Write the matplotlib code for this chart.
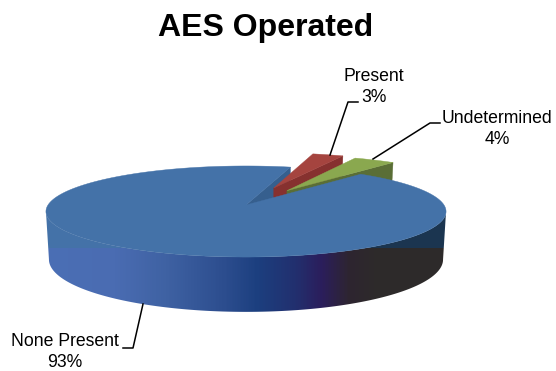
import numpy as np
import matplotlib
matplotlib.use('Agg')
import matplotlib.pyplot as plt
from matplotlib.colors import LinearSegmentedColormap
from matplotlib.patches import Polygon
from matplotlib.path import Path

# Data
labels = ['None Present', 'Present', 'Undetermined']
percents = [93, 3, 4]
explode = [0.0, 0.43, 0.40]
title = 'AES Operated'

# Pie geometry, all in image pixels
firstAngle = 40.0
cx, cy = 246., 205.
rx, ry = 198., 44.6
persp = 1/7.
depth = 47.
shrink = 0.985

plt.rcParams['font.family'] = ['Liberation Sans', 'DejaVu Sans']

fig = plt.figure(figsize=(5.56, 3.71), dpi=100)
ax = fig.add_axes([0, 0, 1, 1])


# Circle coords (angle clockwise from 12 o'clock) to the screen
def project(deg, rad=1., off=(0., 0.), low=False):
    t = np.radians(deg)
    u = rad*np.sin(t) + off[0]
    v = -rad*np.cos(t) + off[1]
    w = 1 - persp*v
    s = shrink if low else 1.
    x = cx + s*rx*u/w
    y = cy + ry*v/w + (depth/w if low else 0.)
    return np.column_stack([x, y])


def sidePoly(deg, off, color, z):
    top = np.vstack([project(0, 0., off), project(deg, 1., off)])
    bot = np.vstack([project(deg, 1., off, True), project(0, 0., off, True)])
    ax.add_patch(Polygon(np.vstack([top, bot]), closed=True, fc=color, ec=color, lw=.3, zorder=z))


def topPoly(a0, a1, off, color, z):
    arc = project(np.linspace(a0, a1, 300), 1., off)
    ax.add_patch(Polygon(np.vstack([project(0, 0., off), arc]), closed=True,
                         fc=color, ec=color, lw=.3, zorder=z))


# Slice angles from the values
sweeps = [p*3.6 for p in percents]
blue0 = firstAngle
blue1 = blue0 + sweeps[0]
red0 = blue1
red1 = red0 + sweeps[1]
green0 = red1
green1 = green0 + sweeps[2]


def offset(a0, a1, e):
    m = np.radians((a0 + a1)/2.)
    return (e*np.sin(m), -e*np.cos(m))


# Outer wall, one image with two gradient bands split at y=248
wallTop = project(np.linspace(98, 262, 300))
wallBot = project(np.linspace(262, 98, 300), low=True)
wall = np.vstack([wallTop, wallBot])
wallPath = Path(np.vstack([wall, wall[0]]), closed=True)
bandSplit = 248
imgX0, imgX1, imgY0, imgY1 = 44, 448, 205, 320

lowStops = [(44, '#4a6fb5'), (115, '#4a6cb2'), (165, '#3f62a3'), (225, '#2c4d8e'),
            (258, '#1c3f7f'), (295, '#22306f'), (322, '#2b1e5c'), (350, '#2e2530'),
            (375, '#2d2a2b'), (448, '#2e2a2a')]
upStops = [(44, '#4472a8'), (200, '#4472a8'), (300, '#1b3550'), (448, '#1b3550')]


def rampColors(stops):
    pos = [(s[0] - imgX0)/float(imgX1 - imgX0) for s in stops]
    cmap = LinearSegmentedColormap.from_list('wall', list(zip(pos, [s[1] for s in stops])))
    return cmap(np.linspace(0, 1, imgX1 - imgX0))


rows = np.arange(imgY0, imgY1)
wallImg = np.where((rows < bandSplit)[:, None, None], rampColors(upStops)[None, :, :],
                   rampColors(lowStops)[None, :, :])
im = ax.imshow(wallImg, extent=(imgX0, imgX1, imgY1, imgY0), aspect='auto', zorder=1,
               interpolation='nearest')
im.set_clip_path(wallPath, transform=ax.transData)

ax.set_xlim(0, 556)
ax.set_ylim(371, 0)
ax.axis('off')

# Cut face of the big slice, then the pulled out slices, then the big top
sidePoly(blue1, (0, 0), '#365f8e', 2)

redOff = offset(red0, red1, explode[1])
sidePoly(red1, redOff, '#86312f', 3)
topPoly(red0, red1, redOff, '#a5443f', 4)

greenOff = offset(green0, green1, explode[2])
sidePoly(green1, greenOff, '#5a6e36', 5)
topPoly(green0, green1, greenOff, '#8aa84f', 6)

topPoly(blue0, blue1, (0, 0), '#4472a8', 7)

# Labels and leader lines
ax.text(266, 28, title, ha='center', va='center', fontsize=23, fontweight='bold', color='black')
textPos = [(65, 352), (374, 87), (497, 129)]
leaders = [[(143, 304), (133, 348), (123, 348)],
           [(330, 155), (348, 102), (358, 102)],
           [(373, 159), (430, 123), (440, 123)]]
for lab, pct, pos, pts in zip(labels, percents, textPos, leaders):
    ax.text(pos[0], pos[1], '%s\n%d%%' % (lab, pct), ha='center', va='center',
            fontsize=12.7, color='black', linespacing=1.32, zorder=9)
    ax.plot(*zip(*pts), color='black', lw=1.1, zorder=8, solid_joinstyle='round')

fig.savefig('out.png', dpi=100)
